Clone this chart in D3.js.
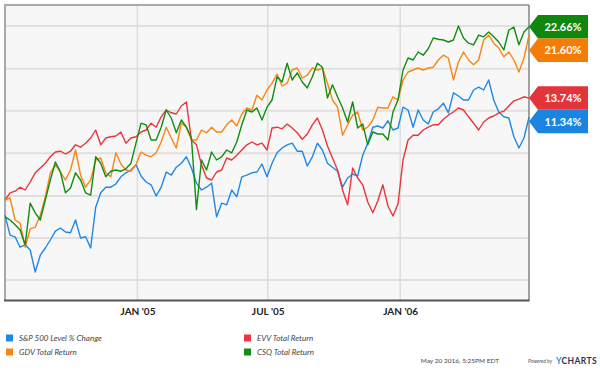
<!DOCTYPE html>
<html>
<head>
<meta charset="UTF-8">
<title>Total return comparison</title>
<script src="https://cdn.jsdelivr.net/npm/d3@7"></script>
<style>
  body { margin: 0; background: #fff; }
  svg { display: block; font-family: Lato, "Open Sans", sans-serif; }
  .xaxis text { font-weight: bold; font-size: 10px; fill: #222; }
  .legend text { font-style: italic; font-size: 8px; fill: #444; }
  .endlabel text { font-weight: bold; font-size: 11px; fill: #fff; }
</style>
</head>
<body>
<svg width="600" height="372"></svg>
<script>
// weekly closes, % return since 1 Jul 2004
var startDate = new Date(2004, 6, 1);

var spx = [-0.9, -3.4, -3.6, -4.9, -4.6, -5.25, -8.0, -5.9, -5.0, -4.0,
  -2.9, -2.5, -3.0, -3.1, -1.5, -3.75, -3.6, -5.0, 0.1, 1.9,
  2.6, 2.6, 3.0, 3.9, 4.4, 4.75, 5.4, 4.0, 3.25, 2.9,
  1.5, 2.6, 4.5, 4.1, 5.1, 5.6, 6.4, 5.0, 3.1, 2.25,
  2.6, 3.1, -1.1, 0.6, 0.4, 2.25, 1.4, 3.9, 4.1, 4.4,
  4.5, 5.5, 3.9, 5.6, 6.9, 7.5, 7.9, 8.1, 7.1, 7.1,
  5.25, 6.4, 8.1, 7.25, 5.6, 5.1, 4.6, 2.6, 3.75, 4.25,
  4.0, 6.6, 8.1, 10.1, 10.25, 10.0, 10.9, 9.75, 10.0, 12.6,
  12.25, 10.1, 12.25, 11.0, 10.5, 12.0, 12.4, 13.1, 11.9, 14.4,
  14.0, 13.5, 13.5, 14.75, 15.1, 14.75, 16.0, 13.5, 12.0, 11.4,
  11.25, 8.9, 7.5, 8.75, 11.34];

var gdv = [1.0, 1.25, -1.5, -1.9, -4.9, -2.6, -2.4, -0.9, 1.4, 4.4,
  5.4, 4.5, 3.5, 4.75, 7.25, 4.1, 2.6, 3.5, 6.0, 6.25,
  4.4, 3.9, 6.9, 5.5, 4.75, 4.6, 5.4, 7.0, 6.6, 6.4,
  6.9, 8.25, 10.1, 8.75, 7.5, 10.6, 10.1, 8.5, 8.5, 9.75,
  9.4, 10.1, 9.5, 9.5, 10.4, 11.0, 10.25, 11.75, 12.5, 12.25,
  14.1, 13.5, 14.75, 15.6, 16.75, 15.25, 15.6, 17.25, 17.5, 16.25,
  16.6, 17.5, 17.25, 17.5, 15.6, 13.5, 12.6, 9.1, 10.4, 11.6,
  12.0, 9.75, 10.1, 11.0, 12.6, 12.5, 12.5, 13.9, 13.5, 16.0,
  17.0, 17.25, 17.5, 17.25, 17.5, 17.6, 18.5, 19.1, 18.75, 16.0,
  18.25, 19.5, 18.5, 17.9, 18.5, 21.0, 21.6, 20.6, 20.0, 18.9,
  19.5, 18.5, 17.0, 18.75, 21.60];

var evv = [1.0, 1.9, 2.1, 2.6, 2.25, 3.25, 4.4, 5.0, 5.6, 6.4,
  7.0, 7.1, 6.75, 7.1, 7.9, 7.6, 8.1, 8.75, 9.75, 7.9,
  8.75, 8.9, 9.0, 9.5, 8.1, 8.75, 8.9, 9.5, 9.75, 10.6,
  10.1, 11.4, 12.25, 11.9, 11.75, 12.75, 13.25, 8.5, 7.9, 5.4,
  3.75, 3.5, 4.5, 4.75, 6.25, 6.0, 6.6, 7.25, 7.9, 8.25,
  7.9, 8.1, 7.25, 10.0, 10.1, 9.9, 10.5, 10.0, 9.4, 8.6,
  9.25, 10.4, 11.25, 9.75, 7.75, 6.25, 4.75, 2.25, 0.4, 5.0,
  3.75, 2.9, 0.75, -0.6, 0.9, 2.9, 0.25, -1.0, 0.5, 6.0,
  8.5, 9.1, 9.1, 9.75, 10.1, 10.4, 10.4, 11.1, 11.6, 12.0,
  12.5, 12.25, 11.4, 10.6, 9.75, 10.75, 11.25, 11.5, 11.9, 12.1,
  12.75, 13.4, 13.6, 13.9, 13.74];

var csq = [-1.1, -1.5, -2.1, -2.75, -4.6, 0.6, -0.6, -1.5, 1.0, 3.5,
  5.75, 4.5, 1.9, 2.5, 4.4, 3.5, 1.9, 1.6, 6.4, 5.6,
  3.9, 4.6, 4.75, 4.6, 4.9, 5.6, 8.1, 10.6, 10.4, 8.5,
  8.5, 10.1, 12.25, 11.25, 9.4, 11.0, 10.1, 8.75, -0.2, 6.0,
  4.75, 7.0, 6.0, 6.4, 7.25, 6.9, 8.25, 10.4, 12.25, 12.0,
  12.5, 11.0, 12.6, 13.5, 16.4, 15.75, 18.1, 16.0, 16.9, 15.75,
  15.0, 16.4, 18.1, 17.6, 13.75, 15.4, 13.9, 12.5, 10.75, 13.25,
  10.0, 10.5, 7.9, 9.5, 9.25, 9.25, 8.5, 12.0, 13.5, 17.25,
  18.75, 18.5, 19.5, 19.1, 19.9, 21.25, 21.1, 21.0, 20.75, 21.0,
  22.75, 21.25, 20.6, 20.4, 21.6, 21.4, 22.0, 21.4, 20.75, 19.75,
  22.25, 22.6, 20.4, 22.0, 22.66];

var seriesNames = ["S&P 500 Level % Change", "GDV Total Return", "EVV Total Return", "CSQ Total Return"];
var seriesColors = ["#1f88e5", "#f98513", "#e8363c", "#148c12"];
var labelColors = ["#1b84e0", "#f57d05", "#e3343a", "#0f860c"];
var xTicks = [new Date(2005, 0, 1), new Date(2005, 6, 1), new Date(2006, 0, 1)];
var gridVals = [-9, -3.75, 1.5, 6.85, 12.15, 17.4, 22.75];

var dates = spx.map(function (d, i) { return d3.timeDay.offset(startDate, 7 * i); });
var allSeries = [spx, gdv, evv, csq];

var svg = d3.select("svg"),
    plot = {left: 5, right: 529, top: 5, bottom: 300};

var x = d3.scaleTime()
    .domain([dates[0], dates[dates.length - 1]])
    .range([plot.left, plot.right]);

var y = d3.scaleLinear()
    .domain([-11.5, 25.375])
    .range([plot.bottom, plot.top]);

// plot background
svg.append("rect")
    .attr("x", plot.left).attr("y", plot.top)
    .attr("width", plot.right - plot.left).attr("height", plot.bottom - plot.top)
    .attr("fill", "#f7f7f7");

// grid
svg.append("g").selectAll("line")
    .data(gridVals).enter().append("line")
    .attr("x1", plot.left).attr("x2", plot.right)
    .attr("y1", function (d) { return y(d); })
    .attr("y2", function (d) { return y(d); })
    .attr("stroke", "#e0e0e0").attr("stroke-width", 2);

svg.append("g").selectAll("line")
    .data(xTicks).enter().append("line")
    .attr("x1", function (d) { return x(d); })
    .attr("x2", function (d) { return x(d); })
    .attr("y1", plot.top).attr("y2", plot.bottom)
    .attr("stroke", "#dcdcdc").attr("stroke-width", 1.5);

// frame
svg.append("path")
    .attr("d", "M" + plot.left + "," + plot.bottom + "V" + plot.top + "H" + plot.right)
    .attr("fill", "none").attr("stroke", "#aaa").attr("stroke-width", 2);
svg.append("line")
    .attr("x1", plot.right).attr("x2", plot.right)
    .attr("y1", plot.top).attr("y2", plot.bottom)
    .attr("stroke", "#666").attr("stroke-width", 1.2);
svg.append("line")
    .attr("x1", plot.left - 1).attr("x2", plot.right + 0.6)
    .attr("y1", plot.bottom + 0.5).attr("y2", plot.bottom + 0.5)
    .attr("stroke", "#555").attr("stroke-width", 2);

// x axis labels
var xAxis = d3.axisBottom(x)
    .tickValues(xTicks)
    .tickSize(0)
    .tickPadding(8)
    .tickFormat(function (d) { return d3.timeFormat("%b '%y")(d).toUpperCase(); });

svg.append("g")
    .attr("class", "xaxis")
    .attr("transform", "translate(0," + plot.bottom + ")")
    .call(xAxis)
    .call(function (g) { g.select(".domain").remove(); });
svg.select(".xaxis").attr("font-family", null).attr("font-size", null);

// lines
var line = d3.line()
    .x(function (d, i) { return x(dates[i]); })
    .y(function (d) { return y(d); });

var drawOrder = [0, 2, 1, 3];
drawOrder.forEach(function (k) {
    svg.append("path")
        .datum(allSeries[k])
        .attr("fill", "none")
        .attr("stroke", seriesColors[k])
        .attr("stroke-width", 1.4)
        .attr("stroke-linejoin", "round")
        .attr("d", line);
});

// end labels
var ends = allSeries.map(function (s, k) {
    return {k: k, v: s[s.length - 1], cy: y(s[s.length - 1])};
}).sort(function (a, b) { return a.cy - b.cy; });
var lh = 23.5;
for (var i = 1; i < ends.length; i++) {
    if (ends[i].cy < ends[i - 1].cy + lh) ends[i].cy = ends[i - 1].cy + lh;
}
var lab = svg.append("g").attr("class", "endlabel")
    .selectAll("g").data(ends).enter().append("g");
lab.append("path")
    .attr("d", function (d) {
        var t = d.cy - lh / 2, b = d.cy + lh / 2;
        return "M" + plot.right + "," + d.cy + "L538," + t + "H588V" + b + "H538Z";
    })
    .attr("fill", function (d) { return labelColors[d.k]; });
lab.append("text")
    .attr("x", 563).attr("y", function (d) { return d.cy + 4; })
    .attr("text-anchor", "middle")
    .text(function (d) { return d.v.toFixed(2) + "%"; });

// legend
var legendPos = [[5, 338], [5, 352], [243, 338], [243, 352]];
var leg = svg.append("g").attr("class", "legend")
    .selectAll("g").data(seriesNames).enter().append("g")
    .attr("transform", function (d, i) { return "translate(" + legendPos[i][0] + "," + legendPos[i][1] + ")"; });
leg.append("rect")
    .attr("x", 1).attr("y", -3.5).attr("width", 7).attr("height", 7)
    .attr("fill", function (d, i) { return seriesColors[i]; });
leg.append("text")
    .attr("x", 14).attr("y", 3)
    .text(function (d) { return d; });

// footer
svg.append("text")
    .attr("x", 499).attr("y", 362.5)
    .attr("text-anchor", "end")
    .attr("font-size", 6.5).attr("fill", "#444")
    .text("May 20 2016, 5:25PM EDT");
svg.append("text")
    .attr("x", 528).attr("y", 362.5)
    .attr("font-size", 5).attr("font-style", "italic").attr("fill", "#555")
    .text("Powered by");
var yc = svg.append("text")
    .attr("x", 556).attr("y", 363.5)
    .attr("font-size", 8.5).attr("font-weight", "bold").attr("letter-spacing", 0.4);
yc.append("tspan").attr("fill", "#1a8fe3").text("Y");
yc.append("tspan").attr("fill", "#1f3553").text("CHARTS");
</script>
</body>
</html>
